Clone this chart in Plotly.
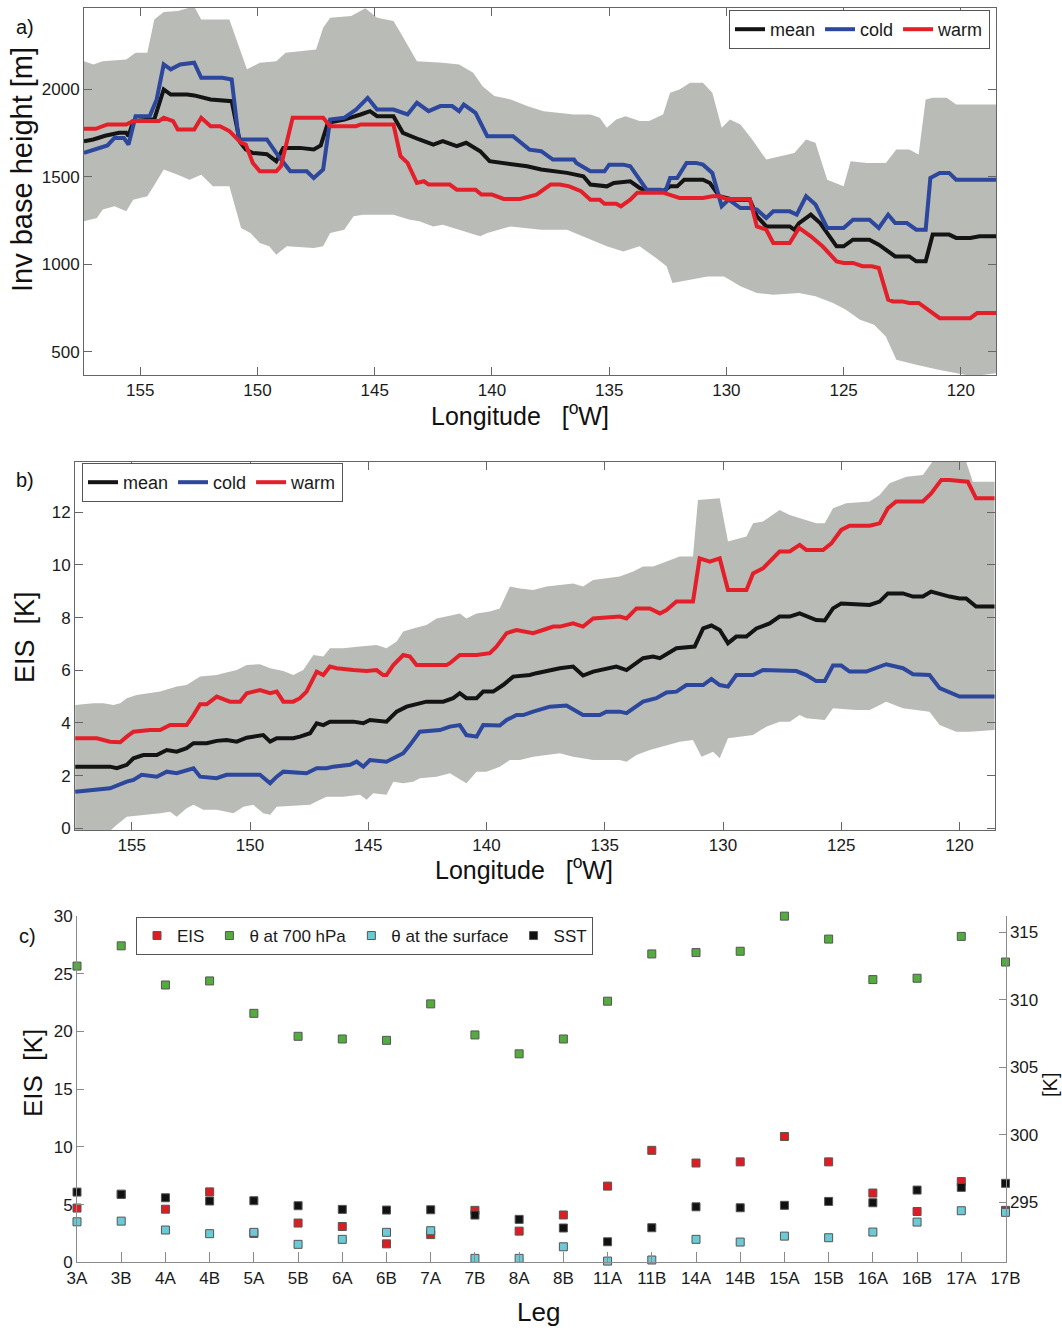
import plotly.graph_objects as go

# ---------------- Panel a: inversion base height ----------------
a_mean_lon = [157.4,157.0,156.5,155.9,155.6,155.5,155.3,154.4,154.0,153.7,153.0,152.7,152.0,151.1,150.75,150.5,150.2,149.6,149.2,148.9,148.2,147.6,147.3,147.0,146.3,145.8,145.6,145.2,144.9,144.2,143.8,143.1,142.5,142.1,141.5,141.1,140.5,140.1,139.5,138.5,137.9,137.3,136.8,136.1,135.8,135.1,134.8,134.1,133.7,133.4,132.7,132.4,132.1,131.8,131.0,130.7,130.3,129.7,129.0,128.7,128.3,127.3,127.1,126.9,126.4,126.0,125.6,125.3,125.0,124.6,123.9,123.5,122.8,122.2,121.9,121.5,121.2,120.5,120.2,119.6,119.2,118.5]
a_mean = [1704,1714,1735,1752,1752,1733,1819,1830,2000,1971,1971,1966,1943,1933,1700,1657,1637,1630,1590,1666,1666,1657,1680,1809,1828,1847,1857,1876,1847,1847,1752,1714,1685,1704,1676,1695,1647,1590,1580,1561,1542,1532,1523,1504,1456,1446,1465,1475,1437,1418,1418,1446,1446,1484,1484,1465,1389,1370,1370,1275,1217,1217,1198,1236,1284,1236,1160,1103,1103,1141,1141,1112,1045,1045,1017,1017,1170,1170,1151,1151,1160,1160]

a_cold_lon = [157.4,156.8,156.4,156.1,155.7,155.5,155.2,154.6,154.3,154.0,153.7,153.3,152.7,152.4,151.5,151.1,150.8,149.6,149.1,148.6,147.9,147.6,147.2,146.9,146.3,145.8,145.3,144.9,144.2,143.6,143.2,142.7,142.2,141.7,141.4,141.2,140.7,140.2,139.1,138.4,137.9,137.4,136.5,136.4,135.8,135.2,135.0,134.4,134.1,133.7,133.4,132.8,132.6,132.4,132.1,131.7,131.3,131.0,130.6,130.2,129.9,129.4,129.0,128.7,128.3,128.0,127.3,127.0,126.6,126.2,125.7,125.0,124.6,123.9,123.5,123.1,122.8,122.3,121.9,121.5,121.3,120.9,120.5,120.2,118.5]
a_cold = [1637,1666,1680,1723,1723,1685,1847,1847,1943,2143,2115,2143,2153,2067,2067,2057,1714,1714,1618,1532,1532,1494,1542,1828,1838,1885,1952,1885,1885,1857,1924,1876,1905,1905,1876,1914,1866,1733,1733,1656,1647,1599,1599,1580,1532,1532,1570,1570,1561,1484,1427,1427,1418,1494,1494,1580,1580,1570,1523,1332,1370,1322,1322,1313,1265,1303,1303,1284,1389,1342,1208,1208,1255,1255,1208,1284,1236,1236,1198,1198,1494,1523,1523,1484,1484]

a_warm_lon = [157.4,156.9,156.4,155.6,155.3,154.2,154.0,153.6,153.4,152.7,152.4,152.0,151.6,151.2,150.7,150.5,150.2,149.9,149.2,149.0,148.5,147.2,146.9,145.8,145.6,144.2,143.9,143.6,143.2,142.9,142.7,141.8,141.5,140.7,140.45,140.0,139.5,138.8,138.1,137.9,137.5,137.1,136.7,136.2,135.8,135.4,135.2,134.7,134.5,134.1,133.8,132.7,132.4,132.0,131.0,130.6,130.3,130.0,129.0,128.7,128.3,128.0,127.3,126.9,126.4,125.9,125.3,125.0,124.6,124.2,123.8,123.5,123.1,122.9,122.5,122.2,121.8,121.2,120.9,119.6,119.3,118.5]
a_warm = [1775,1775,1800,1800,1819,1819,1838,1819,1771,1771,1838,1790,1790,1762,1695,1685,1580,1532,1532,1561,1838,1838,1790,1790,1800,1800,1618,1580,1465,1475,1456,1456,1427,1427,1399,1399,1374,1374,1399,1418,1456,1456,1446,1418,1370,1370,1347,1347,1332,1370,1410,1410,1399,1380,1380,1389,1389,1374,1374,1217,1198,1122,1122,1208,1160,1103,1017,1008,1008,989,989,979,798,788,788,779,779,721,692,692,721,721]

a_upper_lon = [157.4,157.0,156.6,155.6,155.2,154.7,154.4,154.0,153.4,152.9,152.7,152.4,151.2,150.7,150.45,149.9,149.2,148.8,147.5,147.2,146.9,146.0,145.4,144.9,144.2,143.9,143.5,143.2,142.1,141.4,140.8,140.4,139.9,139.2,138.5,137.8,137.1,136.5,135.8,135.4,135.1,134.7,134.3,133.7,133.3,132.7,132.4,132.0,131.55,131.0,130.6,130.2,129.85,129.4,128.9,128.3,127.7,127.1,126.6,126.2,125.7,125.0,124.7,124.0,123.2,122.75,122.2,121.8,121.5,121.2,120.6,120.2,118.5]
a_upper = [2162,2143,2162,2172,2210,2210,2400,2443,2449,2468,2475,2400,2400,2210,2115,2153,2162,2210,2229,2353,2410,2420,2465,2410,2391,2325,2229,2162,2153,2143,2095,2019,1962,1943,1905,1876,1866,1857,1857,1838,1781,1828,1847,1819,1819,1857,1981,2000,2038,2038,1981,1781,1828,1800,1714,1599,1618,1637,1714,1695,1484,1446,1590,1580,1580,1656,1656,1628,1943,1952,1952,1914,1914]

a_lower_lon = [157.4,156.85,156.6,156.1,155.6,155.3,154.7,154.3,154.0,153.4,152.9,152.4,151.9,151.2,150.7,150.3,149.9,149.5,149.2,148.75,147.6,147.2,146.9,146.3,145.9,145.5,144.2,143.5,143.1,142.5,142.1,141.4,140.5,140.2,139.2,138.5,137.9,136.8,136.1,135.1,134.4,133.7,133.0,132.55,132.3,131.55,130.8,130.1,129.4,128.7,128.0,126.9,126.2,125.45,124.9,124.3,123.7,123.2,122.75,121.9,120.9,120.2,119.5,118.5]
a_lower = [1246,1265,1313,1332,1303,1370,1389,1475,1542,1513,1484,1513,1446,1446,1208,1179,1122,1103,1055,1103,1093,1103,1179,1198,1275,1284,1284,1255,1246,1217,1227,1198,1160,1179,1217,1208,1198,1198,1160,1103,1074,1103,1036,989,893,912,931,931,874,836,826,836,817,779,740,683,654,587,454,425,396,377,360,377]

# ---------------- Panel b: EIS along longitude ----------------
b_mean_lon = [157.39,155.92,155.63,155.21,154.93,154.51,153.94,153.52,153.10,152.68,152.39,151.83,151.41,150.99,150.56,150.14,149.44,149.15,148.87,148.17,147.89,147.46,147.18,146.90,146.62,145.63,145.21,144.93,144.23,143.80,143.38,143.10,142.54,141.83,141.41,141.13,140.85,140.42,140.14,139.72,139.30,138.87,138.17,137.89,137.32,136.90,136.34,135.92,135.49,134.51,134.08,133.38,132.96,132.67,131.97,131.20,130.84,130.49,130.14,129.79,129.44,129.01,128.59,128.03,127.61,127.18,126.76,126.06,125.70,125.35,125.00,123.80,123.38,123.03,122.39,121.97,121.55,121.20,120.42,120.00,119.72,119.30,118.52]
b_mean = [2.34,2.34,2.28,2.41,2.66,2.78,2.78,2.97,2.91,3.04,3.23,3.23,3.32,3.35,3.29,3.44,3.54,3.29,3.42,3.42,3.48,3.61,3.99,3.92,4.05,4.05,3.99,4.11,4.05,4.43,4.62,4.68,4.81,4.81,4.94,5.13,4.94,4.94,5.19,5.19,5.44,5.76,5.82,5.89,6.01,6.08,6.14,5.80,5.95,6.14,6.01,6.46,6.52,6.46,6.84,6.90,7.59,7.70,7.53,7.03,7.28,7.28,7.59,7.78,8.04,8.04,8.16,7.91,7.89,8.35,8.54,8.48,8.61,8.92,8.92,8.80,8.80,8.99,8.80,8.73,8.73,8.42,8.42]

b_cold_lon = [157.39,156.62,155.92,155.21,154.93,154.58,153.94,153.52,153.10,152.39,152.11,151.41,150.99,149.58,149.15,148.87,148.59,147.61,147.18,146.76,146.48,145.77,145.49,145.21,144.93,144.23,143.94,143.52,143.24,142.82,141.97,141.55,141.13,140.85,140.42,140.14,139.44,139.15,138.73,138.45,138.03,137.61,137.32,136.62,135.92,135.21,134.93,134.37,134.08,133.38,132.82,132.39,131.97,131.55,130.84,130.49,130.14,129.79,129.44,128.73,128.31,126.90,126.48,126.06,125.70,125.35,125.00,124.65,123.94,123.10,122.39,121.97,121.27,120.84,120.42,120.00,118.52]
b_cold = [1.39,1.46,1.52,1.77,1.84,2.03,1.96,2.15,2.09,2.28,1.96,1.90,2.03,2.03,1.71,1.96,2.15,2.09,2.28,2.28,2.34,2.41,2.53,2.34,2.59,2.53,2.66,2.85,3.16,3.67,3.73,3.86,3.92,3.54,3.48,3.92,3.90,4.11,4.30,4.30,4.43,4.56,4.62,4.66,4.30,4.30,4.43,4.43,4.37,4.81,4.94,5.16,5.19,5.44,5.44,5.67,5.44,5.38,5.82,5.82,6.01,5.97,5.82,5.59,5.59,6.18,6.18,5.95,5.95,6.23,6.08,5.85,5.82,5.32,5.16,5.00,5.00]

b_warm_lon = [157.39,156.48,155.92,155.49,155.21,154.93,154.23,153.80,153.38,152.68,152.39,152.11,151.83,151.41,150.85,150.42,150.14,149.58,149.15,148.87,148.59,148.17,147.89,147.61,147.18,146.90,146.62,146.34,145.63,145.07,144.65,144.37,144.23,143.94,143.52,143.24,142.96,141.69,141.55,141.13,140.42,139.86,139.58,139.15,138.73,138.31,138.03,137.61,137.18,136.90,136.34,135.92,135.49,134.37,134.08,133.66,133.10,132.67,132.39,131.97,131.27,130.99,130.56,130.14,129.79,129.01,128.73,128.31,128.03,127.61,127.18,126.76,126.48,125.77,125.42,125.00,124.65,123.80,123.38,123.03,122.68,121.55,121.20,120.77,120.42,119.65,119.30,118.52]
b_warm = [3.42,3.42,3.29,3.27,3.48,3.67,3.73,3.73,3.92,3.92,4.30,4.71,4.71,5.00,4.81,4.81,5.13,5.25,5.13,5.19,4.81,4.81,4.94,5.19,5.95,5.82,6.14,6.08,6.01,5.97,6.01,5.82,5.82,6.20,6.58,6.52,6.20,6.20,6.27,6.58,6.58,6.65,6.90,7.41,7.53,7.47,7.41,7.53,7.66,7.66,7.78,7.66,7.97,8.04,7.97,8.35,8.35,8.16,8.29,8.61,8.61,10.25,10.13,10.25,9.05,9.05,9.68,9.87,10.13,10.51,10.51,10.76,10.57,10.57,10.82,11.33,11.49,11.49,11.58,12.15,12.41,12.41,12.72,13.23,13.23,13.16,12.53,12.53]

b_upper_lon = [157.39,156.62,156.20,155.77,155.49,155.21,154.79,154.23,153.80,153.10,152.68,152.11,151.41,151.13,150.56,150.14,149.58,149.15,148.59,148.17,147.75,147.32,146.90,146.62,146.06,145.35,144.65,144.23,143.80,143.52,143.10,142.54,142.11,141.41,141.13,140.85,140.42,139.86,139.44,139.01,138.59,138.03,137.46,136.90,136.34,135.92,135.49,134.37,133.80,133.38,132.96,132.39,131.83,131.27,131.06,130.14,129.79,129.01,128.73,128.31,127.61,127.18,126.76,126.06,125.70,125.35,124.79,123.80,123.38,122.96,122.25,121.55,120.84,119.86,119.44,118.52]
b_upper = [4.68,4.75,4.75,4.68,4.75,4.94,5.06,5.13,5.19,5.38,5.44,5.76,5.82,5.89,6.01,6.20,6.23,6.08,5.97,5.82,6.01,6.58,6.52,6.84,6.84,6.90,6.96,6.84,7.09,7.47,7.59,7.72,7.97,8.10,8.16,7.97,8.16,8.23,8.35,9.18,9.11,9.05,9.18,9.24,9.30,9.18,9.43,9.56,9.75,9.94,9.94,10.13,10.32,10.32,12.47,12.53,10.89,11.08,11.58,11.65,12.09,11.90,11.77,11.58,11.58,12.15,12.34,12.41,12.66,13.10,13.35,13.42,14.30,14.30,13.16,13.16]

b_lower_lon = [157.39,155.92,155.63,155.21,154.37,153.80,153.38,153.10,152.68,152.39,151.97,151.41,150.70,150.28,149.86,149.44,149.15,148.87,147.46,147.04,146.76,146.06,145.35,145.07,144.79,144.23,143.94,143.52,143.10,142.82,142.11,141.55,140.85,140.42,140.00,139.44,139.01,138.59,138.03,137.46,136.90,136.34,135.49,134.37,134.08,133.66,133.10,132.39,131.83,131.27,130.91,130.42,130.14,129.79,129.30,128.73,128.17,127.61,127.18,126.76,126.48,125.70,125.35,124.37,123.80,123.10,122.39,121.27,120.84,120.14,119.58,118.52]
b_lower = [-0.1,-0.1,0.13,0.44,0.51,0.57,0.63,0.44,0.76,0.89,0.70,0.70,0.57,0.82,0.89,0.57,0.51,0.82,0.89,1.08,1.20,1.20,1.27,1.08,1.33,1.27,1.77,1.71,1.77,1.90,1.96,2.09,1.71,2.15,2.15,2.34,2.59,2.59,2.72,2.78,2.85,2.72,2.59,2.59,2.53,2.78,2.97,3.16,3.29,3.35,2.72,2.91,2.66,3.42,3.48,3.54,3.86,4.05,4.05,4.30,4.18,4.11,4.56,4.49,4.49,4.81,4.56,4.43,3.92,3.67,3.67,3.73]

# ---------------- Panel c: per-leg values ----------------
legs = ["3A","3B","4A","4B","5A","5B","6A","6B","7A","7B","8A","8B","11A","11B","14A","14B","15A","15B","16A","16B","17A","17B"]
eis_leg = [4.7,5.9,4.6,6.1,2.5,3.4,3.1,1.6,2.4,4.5,2.7,4.1,6.6,9.7,8.6,8.7,10.9,8.7,6.0,4.4,7.0,4.5]
theta700_leg = [312.5,314.0,311.1,311.4,309.0,307.3,307.1,307.0,309.7,307.4,306.0,307.1,309.9,313.4,313.5,313.6,316.2,314.5,311.5,311.6,314.7,312.8]
theta_sfc_leg = [293.56,293.61,292.95,292.68,292.78,291.89,292.26,292.78,292.90,290.85,290.85,291.71,290.65,290.73,292.26,292.06,292.50,292.38,292.80,293.54,294.38,294.26]
sst_leg = [295.76,295.59,295.34,295.10,295.12,294.75,294.48,294.43,294.45,294.06,293.74,293.10,292.08,293.12,294.67,294.60,294.78,295.07,294.97,295.91,296.11,296.41]

# ---------------- styling ----------------
W, H = 1062, 1328
FONT = "Liberation Sans, Arial, Helvetica, sans-serif"
NARROW = "Liberation Sans Narrow, Arial Narrow, Liberation Sans, sans-serif"
BAND = "#b9bbb7"
C_MEAN, C_COLD, C_WARM = "#141414", "#2c479c", "#e3202a"
AXC = "#666666"

def px(x):
    return x / W

def py(y):
    return 1 - y / H

fig = go.Figure()

def add_panel(xa, ya, leg, lon_up, up, lon_lo, lo, series):
    fig.add_trace(go.Scatter(
        x=lon_up + lon_lo[::-1], y=up + lo[::-1], fill="toself",
        fillcolor=BAND, line=dict(width=0, color=BAND), mode="lines",
        showlegend=False, hoverinfo="skip", xaxis=xa, yaxis=ya))
    for name, lon, val, col in series:
        fig.add_trace(go.Scatter(
            x=lon, y=val, mode="lines", name=name,
            line=dict(color=col, width=4), xaxis=xa, yaxis=ya, legend=leg))

add_panel("x", "y", "legend", a_upper_lon, a_upper, a_lower_lon, a_lower,
          [("mean", a_mean_lon, a_mean, C_MEAN),
           ("cold", a_cold_lon, a_cold, C_COLD),
           ("warm", a_warm_lon, a_warm, C_WARM)])
add_panel("x2", "y2", "legend2", b_upper_lon, b_upper, b_lower_lon, b_lower,
          [("mean", b_mean_lon, b_mean, C_MEAN),
           ("cold", b_cold_lon, b_cold, C_COLD),
           ("warm", b_warm_lon, b_warm, C_WARM)])

mk = dict(symbol="square", size=8, line=dict(width=1, color="#555555"))
fig.add_trace(go.Scatter(x=legs, y=eis_leg, mode="markers", name="EIS",
                         marker=dict(color="#e01c22", **mk), xaxis="x3", yaxis="y3",
                         legend="legend3", cliponaxis=False))
fig.add_trace(go.Scatter(x=legs, y=theta700_leg, mode="markers", name="θ at 700 hPa",
                         marker=dict(color="#52ad3c", **mk), xaxis="x3", yaxis="y4",
                         legend="legend3", cliponaxis=False))
fig.add_trace(go.Scatter(x=legs, y=theta_sfc_leg, mode="markers", name="θ at the surface",
                         marker=dict(color="#6ccad6", **mk), xaxis="x3", yaxis="y4",
                         legend="legend3", cliponaxis=False))
fig.add_trace(go.Scatter(x=legs, y=sst_leg, mode="markers", name="SST",
                         marker=dict(color="#111111", **mk), xaxis="x3", yaxis="y4",
                         legend="legend3", cliponaxis=False))

box_axis = dict(showline=True, linecolor=AXC, linewidth=1, mirror="ticks",
                ticks="inside", ticklen=8, tickcolor=AXC, showgrid=False,
                zeroline=False, tickfont=dict(family=FONT, size=17, color="#1a1a1a"))
lon_ticks = [155, 150, 145, 140, 135, 130, 125, 120]

c_axis = dict(showline=True, linecolor="#8a8a8a", linewidth=1, ticks="inside",
              tickcolor="#8a8a8a", showgrid=False, zeroline=False,
              tickfont=dict(family=NARROW, size=17, color="#1a1a1a"))

fig.update_layout(
    width=W, height=H, margin=dict(l=0, r=0, t=0, b=0, autoexpand=False),
    paper_bgcolor="white", plot_bgcolor="white",
    font=dict(family=FONT, color="#1a1a1a"),
    xaxis=dict(domain=[px(84), px(996)], range=[157.4, 118.5], tickvals=lon_ticks,
               anchor="y", **box_axis),
    yaxis=dict(domain=[py(375), py(8)], range=[367, 2466], tickvals=[500, 1000, 1500, 2000],
               anchor="x", **box_axis),
    xaxis2=dict(domain=[px(75), px(995)], range=[157.4, 118.5], tickvals=lon_ticks,
                anchor="y2", **box_axis),
    yaxis2=dict(domain=[py(830), py(462)], range=[-0.065, 13.91],
                tickvals=[0, 2, 4, 6, 8, 10, 12], anchor="x2", **box_axis),
    xaxis3=dict(domain=[px(77), px(1005.5)], type="category", range=[0, 21],
                tickvals=legs, ticklen=10, anchor="y3", **c_axis),
    yaxis3=dict(domain=[py(1262.3), py(916)], range=[0, 30], tickvals=[0, 5, 10, 15, 20, 25, 30],
                ticklen=7, anchor="x3", **c_axis),
    yaxis4=dict(overlaying="y3", side="right", anchor="x3", range=[290.56, 316.21],
                tickvals=[295, 300, 305, 310, 315], ticklen=7, **c_axis),
    legend=dict(orientation="h", x=px(990), xanchor="right", y=py(10), yanchor="top",
                bgcolor="white", bordercolor="#555555", borderwidth=1,
                font=dict(family=FONT, size=18, color="#1a1a1a"), itemwidth=30),
    legend2=dict(orientation="h", x=px(82), xanchor="left", y=py(463), yanchor="top",
                 bgcolor="white", bordercolor="#555555", borderwidth=1,
                 font=dict(family=FONT, size=18, color="#1a1a1a"), itemwidth=30),
    legend3=dict(orientation="h", x=px(136), xanchor="left", y=py(917), yanchor="top",
                 bgcolor="white", bordercolor="#555555", borderwidth=1,
                 font=dict(family=NARROW, size=17, color="#1a1a1a"), itemwidth=30),
    showlegend=True,
)

def label(text, x, y, size, angle=0, family=FONT):
    fig.add_annotation(text=text, x=px(x), y=py(y), xref="paper", yref="paper",
                       showarrow=False, textangle=angle, xanchor="center", yanchor="middle",
                       font=dict(family=family, size=size, color="#111111"))

label("Inv base height [m]", 22, 170, 29, -90)
label("Longitude   [<sup>o</sup>W]", 520, 414, 25)
label("EIS  [K]", 25, 637, 27, -90)
label("Longitude   [<sup>o</sup>W]", 524, 868, 25)
label("EIS  [K]", 33, 1073, 26, -90)
label("[K]", 1050, 1085, 20, -90)
label("Leg", 538, 1312, 26)
label("a)", 25, 27, 20)
label("b)", 25, 480, 20)
label("c)", 27, 936, 20)

fig.write_html("out.html",
               post_script="document.body.style.margin='0';document.body.style.overflow='hidden';")
